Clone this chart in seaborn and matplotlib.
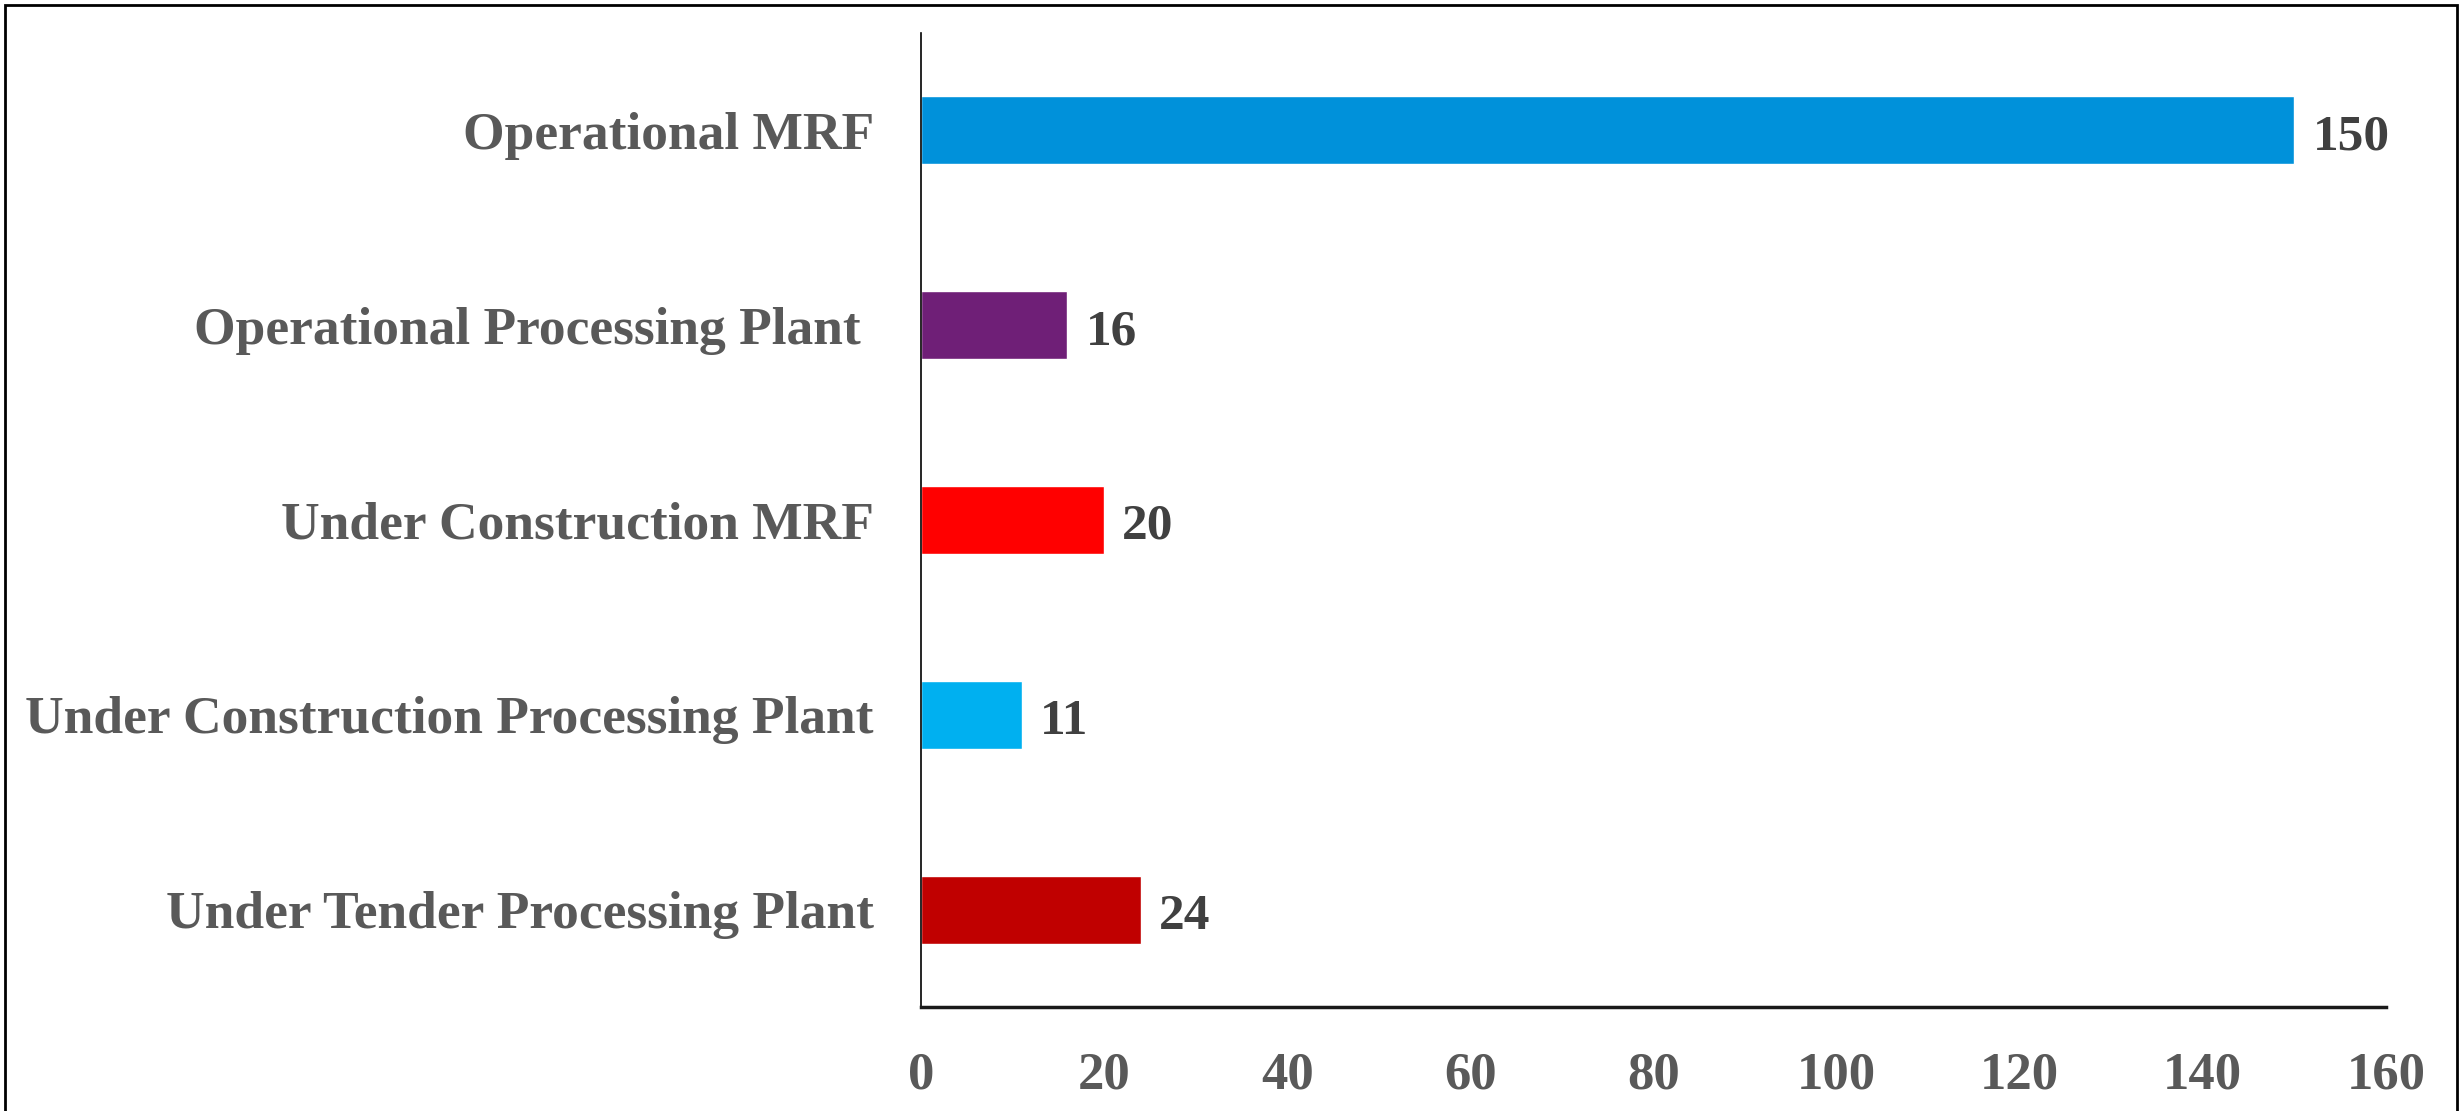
import matplotlib
matplotlib.use("Agg")
import matplotlib.pyplot as plt
import seaborn as sns
import pandas as pd
from matplotlib.patches import Rectangle

categories = ["Operational MRF", "Operational Processing Plant ", "Under Construction MRF",
              "Under Construction Processing Plant", "Under Tender Processing Plant"]
values = [150, 16, 20, 11, 24]
colors = ["#0091DA", "#6F1F77", "#FF0000", "#00B0F0", "#C00000"]
xticks = [0, 20, 40, 60, 80, 100, 120, 140, 160]

sns.set_style("white")
plt.rcParams['font.family'] = ['Liberation Serif', 'DejaVu Serif']

df = pd.DataFrame({"cat": categories, "val": values})

fig = plt.figure(figsize=(24.61, 11.11), dpi=100)
ax = fig.add_axes([0.3742, 0.0936, 0.5953, 0.8767])
sns.barplot(data=df, y="cat", x="val", hue="cat", palette=colors, order=categories,
            hue_order=categories, width=0.35, legend=False, ax=ax, saturation=1)

for c in ax.containers:
    anns = ax.bar_label(c, padding=13, fontsize=37, fontweight='bold', color='#404040')
    for a in anns:
        a.xyann = (13, -5)

ax.set_xlim(0, 160)
ax.set_ylim(4.5, -0.5)
ax.set_xticks(xticks)
ax.set_xticklabels([str(t) for t in xticks])
ax.set_xlabel("")
ax.set_ylabel("")
ax.tick_params(axis='x', length=0, pad=32, labelsize=38, labelcolor='#595959')
ax.tick_params(axis='y', length=0, pad=34, labelsize=38.5, labelcolor='#595959')
for lab in ax.get_xticklabels() + ax.get_yticklabels():
    lab.set_fontweight('bold')

for s in ["top", "right"]:
    ax.spines[s].set_visible(False)
ax.spines["left"].set_color("black")
ax.spines["left"].set_linewidth(1.2)
ax.spines["bottom"].set_color("#1a1a1a")
ax.spines["bottom"].set_linewidth(2.5)
ax.grid(False)

fig.patches.append(Rectangle((5/2461, -0.05), (2457-5)/2461, 1.05 - 5/1111,
                             transform=fig.transFigure, fill=False,
                             edgecolor='black', linewidth=2))

fig.savefig("out.png", dpi=100)
